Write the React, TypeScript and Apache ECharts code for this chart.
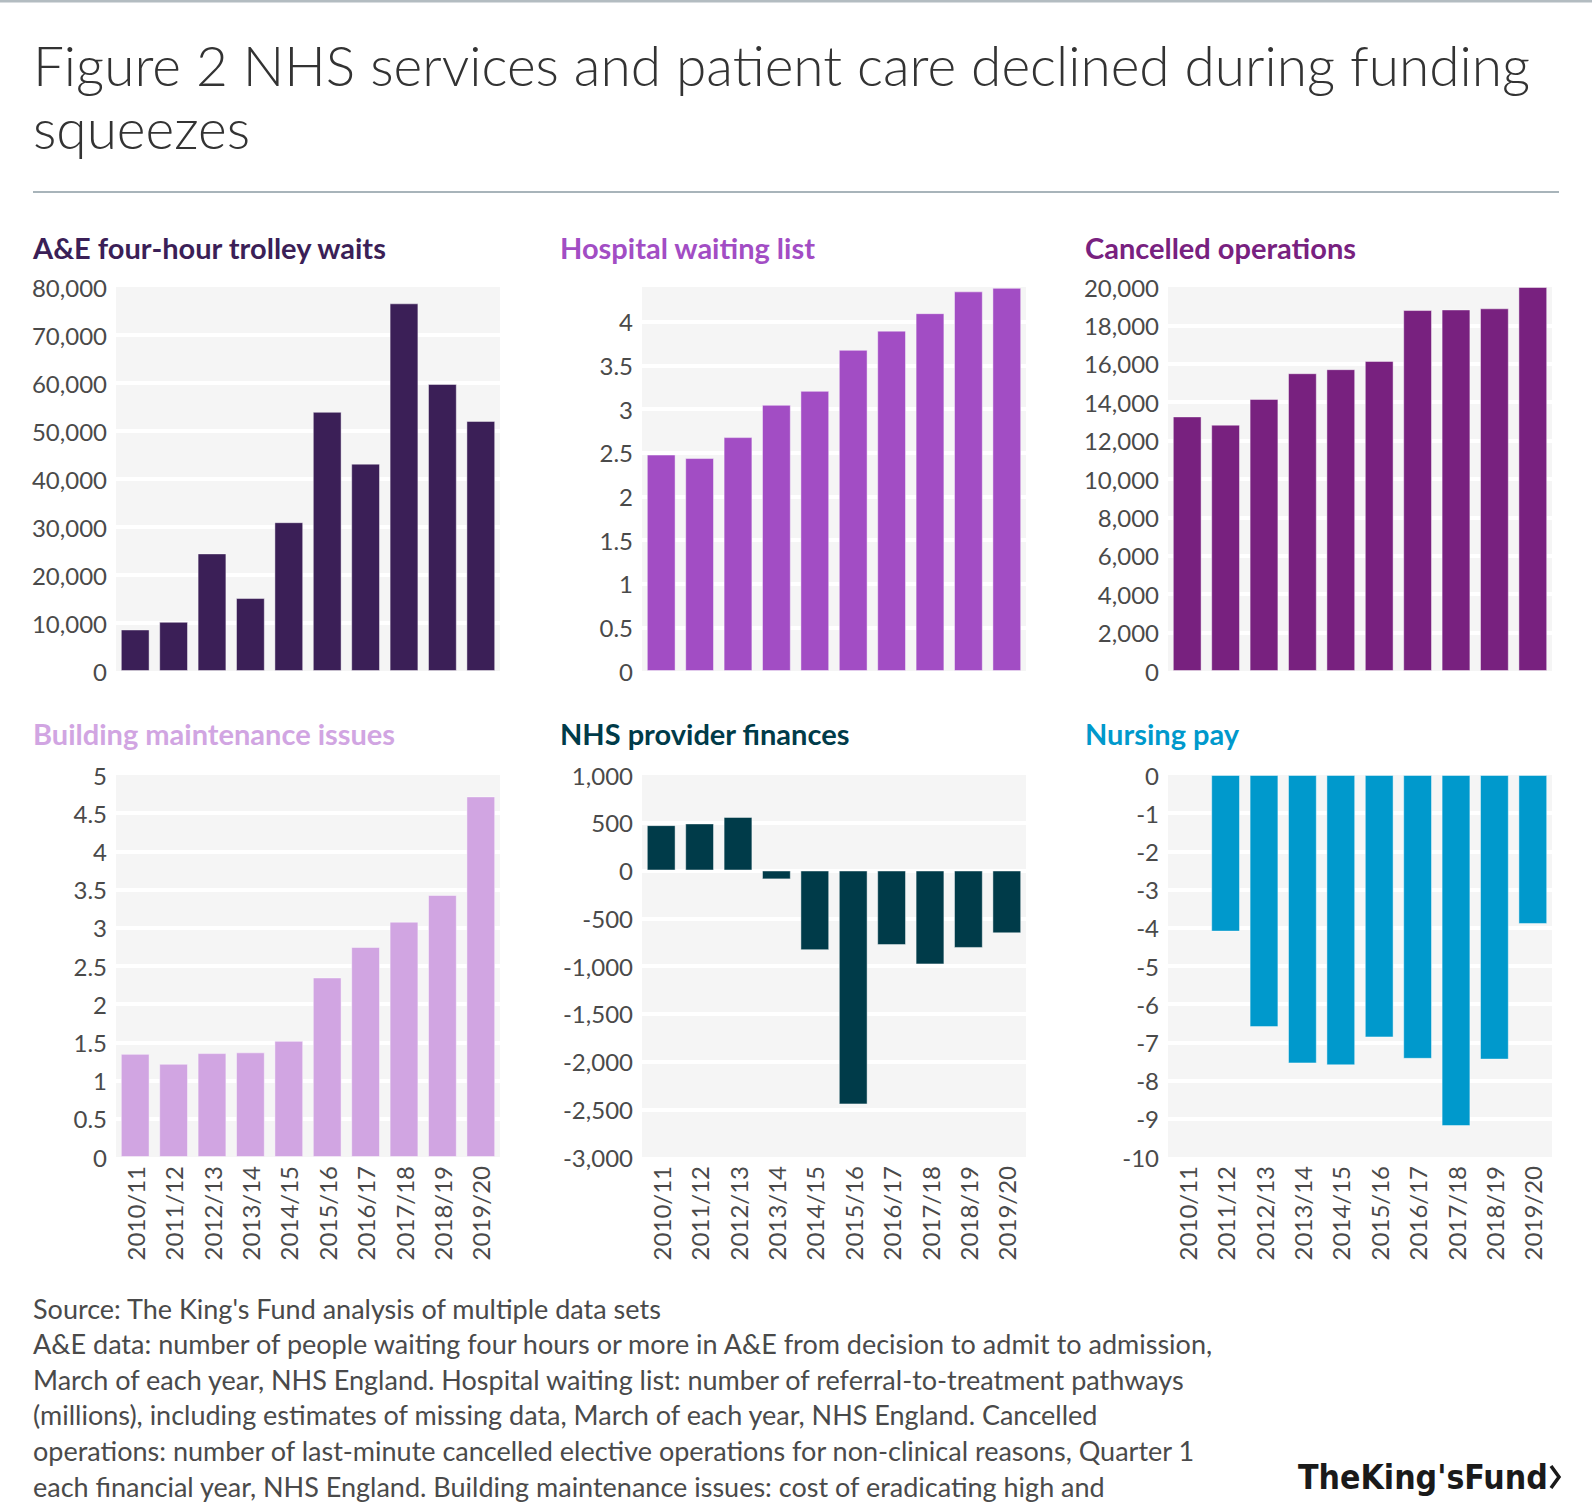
import { useEffect, useRef } from 'react';
import * as echarts from 'echarts';

// Financial years shared by all six panels.
const years = [
  '2010/11', '2011/12', '2012/13', '2013/14', '2014/15',
  '2015/16', '2016/17', '2017/18', '2018/19', '2019/20',
];

// Values.
const trolleyWaits = [8650, 10250, 24500, 15200, 31000, 54000, 43200, 76600, 59800, 52100];
const waitingList = [2.48, 2.44, 2.68, 3.05, 3.21, 3.68, 3.9, 4.1, 4.35, 4.39];
const cancelledOps = [13260, 12830, 14170, 15510, 15720, 16150, 18800, 18830, 18890, 20000];
const buildingMaintenance = [1.35, 1.22, 1.36, 1.37, 1.52, 2.35, 2.75, 3.08, 3.43, 4.72];
const providerFinances = [475, 493, 561, -93, -834, -2449, -781, -983, -811, -658];
const nursingPay = [null, -4.1, -6.6, -7.55, -7.6, -6.87, -7.43, -9.19, -7.45, -3.9];

const panelTitles = [
  'A&E four-hour trolley waits',
  'Hospital waiting list',
  'Cancelled operations',
  'Building maintenance issues',
  'NHS provider finances',
  'Nursing pay',
];
const panelColors = ['#3b1f57', '#a24dc4', '#78217f', '#d1a5e2', '#003b49', '#0099cc'];

const figureTitle = [
  'Figure 2 NHS services and patient care declined during funding',
  'squeezes',
];
const footerLines = [
  "Source: The King's Fund analysis of multiple data sets",
  'A&E data: number of people waiting four hours or more in A&E from decision to admit to admission,',
  'March of each year, NHS England. Hospital waiting list: number of referral-to-treatment pathways',
  '(millions), including estimates of missing data, March of each year, NHS England. Cancelled',
  'operations: number of last-minute cancelled elective operations for non-clinical reasons, Quarter 1',
  'each financial year, NHS England. Building maintenance issues: cost of eradicating high and',
];

const FONT = 'Lato, "Source Sans Pro", "Noto Sans", sans-serif';
const W = 1592;
const H = 1506;

// Panel geometry: three columns, two rows.
const colLeft = [116, 642, 1168];
const titleLeft = [33, 560, 1085];
const rowTop = [287, 775];
const rowHeight = [384, 382];
const titleY = [247, 733];

const seriesData = [trolleyWaits, waitingList, cancelledOps, buildingMaintenance, providerFinances, nursingPay];
const axisRanges = [
  { min: 0, max: 80000, interval: 10000 },
  { min: 0, max: 4.4, interval: 0.5 },
  { min: 0, max: 20000, interval: 2000 },
  { min: 0, max: 5, interval: 0.5 },
  { min: -3000, max: 1000, interval: 500 },
  { min: -10, max: 0, interval: 1 },
];

export default function App() {
  const ref = useRef<HTMLDivElement | null>(null);

  useEffect(() => {
    if (!ref.current) return;
    const chart = echarts.init(ref.current, undefined, { renderer: 'svg' });

    const grids = seriesData.map((_, i) => ({
      left: colLeft[i % 3],
      top: rowTop[Math.floor(i / 3)],
      width: 384,
      height: rowHeight[Math.floor(i / 3)],
      show: true,
      backgroundColor: '#f5f5f5',
      borderWidth: 0,
      containLabel: false,
    }));

    const xAxes = seriesData.map((_, i) => ({
      type: 'category',
      gridIndex: i,
      data: years,
      axisLine: { show: false },
      axisTick: { show: false },
      axisLabel: {
        show: i >= 3,
        rotate: 90,
        margin: 9,
        fontFamily: FONT,
        fontSize: 24,
        color: '#4a4a4a',
        interval: 0,
      },
    }));

    const yAxes = seriesData.map((_, i) => ({
      type: 'value',
      gridIndex: i,
      ...axisRanges[i],
      axisLine: { show: false },
      axisTick: { show: false },
      axisLabel: {
        margin: 9,
        fontFamily: FONT,
        fontSize: 24,
        color: '#4a4a4a',
        showMaxLabel: i === 1 ? false : true,
      },
      splitLine: {
        show: true,
        showMinLine: false,
        showMaxLine: false,
        lineStyle: { color: '#ffffff', width: 4 },
      },
    }));

    const series = seriesData.map((data, i) => ({
      type: 'bar',
      xAxisIndex: i,
      yAxisIndex: i,
      data,
      barCategoryGap: '25%',
      itemStyle: {
        color: panelColors[i],
        borderColor: 'rgba(255,255,255,0.45)',
        borderWidth: 1,
      },
    }));

    const graphic: any[] = [
      { type: 'rect', shape: { x: 0, y: 0, width: W, height: 2.5 }, style: { fill: '#b3bcc1' } },
      ...figureTitle.map((t, i) => ({
        type: 'text',
        x: 33,
        y: 65 + i * 63,
        style: { text: t, font: `300 55px ${FONT}`, fill: '#333333', textVerticalAlign: 'middle' },
      })),
      { type: 'line', shape: { x1: 33, y1: 192, x2: 1559, y2: 192 }, style: { stroke: '#a8b4ba', lineWidth: 2 } },
      ...panelTitles.map((t, i) => ({
        type: 'text',
        x: titleLeft[i % 3],
        y: titleY[Math.floor(i / 3)],
        style: { text: t, font: `bold 29px ${FONT}`, fill: panelColors[i], textVerticalAlign: 'middle' },
      })),
      ...footerLines.map((t, i) => ({
        type: 'text',
        x: 33,
        y: 1308 + i * 35.6,
        style: { text: t, font: `27px ${FONT}`, fill: '#4a4a4a', textVerticalAlign: 'middle' },
      })),
      {
        type: 'text',
        x: 1298,
        y: 1477,
        style: {
          text: "TheKing'sFund",
          font: 'bold 33.5px "DejaVu Sans Condensed", "Liberation Sans Narrow", sans-serif',
          fill: '#1a1a1a',
          textVerticalAlign: 'middle',
        },
      },
      {
        type: 'polyline',
        shape: { points: [[1551, 1466], [1559, 1477], [1551, 1488]] },
        style: { stroke: '#1a1a1a', lineWidth: 3.5, fill: 'none' },
      },
    ];

    chart.setOption({
      animation: false,
      backgroundColor: '#ffffff',
      grid: grids,
      xAxis: xAxes,
      yAxis: yAxes,
      series,
      graphic,
    });

    return () => chart.dispose();
  }, []);

  return (
    <div
      ref={ref}
      style={{ position: 'absolute', left: 0, top: 0, width: W, height: H }}
    />
  );
}
